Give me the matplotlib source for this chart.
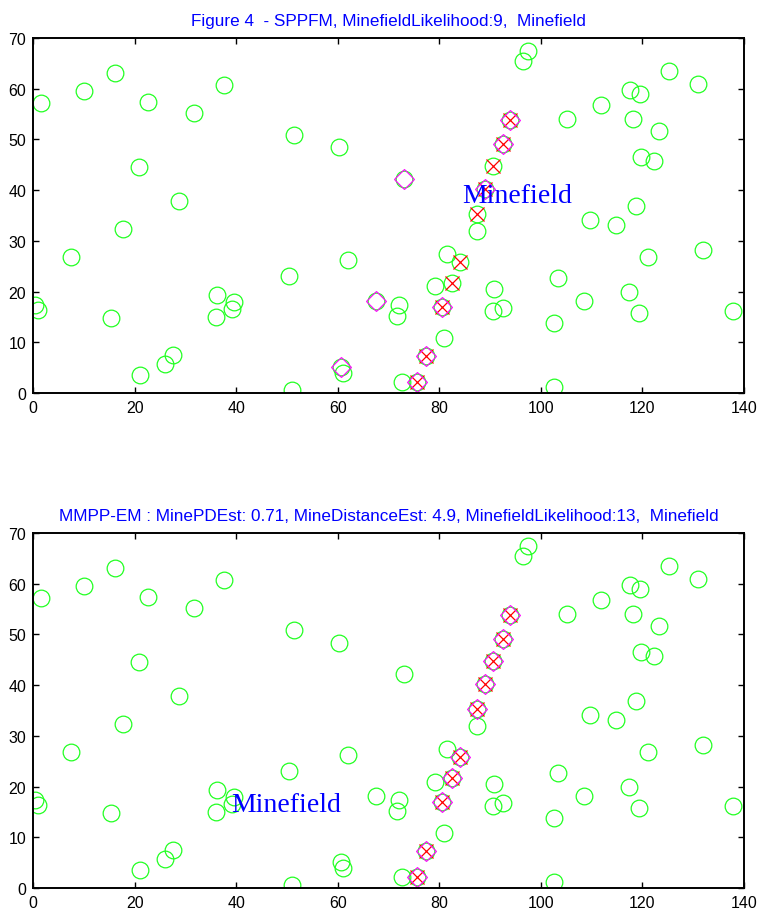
import matplotlib
matplotlib.use("Agg")
import matplotlib.pyplot as plt

# all detected objects (x, y)
det_x = [1.5, 10.0, 16.1, 22.6, 31.6, 37.7, 20.8, 28.7, 17.7, 7.4,
         0.3, 1.0, 15.4, 36.2, 39.5, 39.2, 36.1, 27.5, 25.9, 21.1,
         51.3, 60.2, 73.0, 62.1, 50.5, 67.5, 72.0, 71.7, 60.6, 61.1,
         51.0, 72.6, 75.6, 77.4, 81.0, 80.5, 79.2, 82.5, 81.5, 84.1,
         90.7, 90.5, 92.6, 87.4, 87.4, 89.0, 90.5, 92.6, 94.0,
         97.4, 96.4, 105.1, 111.8, 117.6, 119.5, 118.1, 125.3, 131.0, 123.3,
         119.7, 122.3, 118.7, 109.7, 114.8, 121.0, 132.0, 103.3, 108.5, 117.3,
         119.4, 137.9, 102.5, 102.5]
det_y = [57.1, 59.5, 63.1, 57.4, 55.2, 60.8, 44.6, 37.9, 32.3, 26.8,
         17.4, 16.4, 14.8, 19.4, 17.9, 16.6, 15.0, 7.4, 5.7, 3.5,
         50.8, 48.4, 42.2, 26.3, 23.0, 18.1, 17.4, 15.2, 5.1, 3.9,
         0.6, 2.2, 2.2, 7.2, 10.9, 16.9, 21.0, 21.7, 27.4, 25.8,
         20.6, 16.1, 16.8, 32.0, 35.2, 40.2, 44.8, 49.0, 53.8,
         67.5, 65.4, 54.1, 56.7, 59.8, 59.0, 54.1, 63.4, 61.0, 51.7,
         46.6, 45.7, 36.9, 34.1, 33.1, 26.9, 28.1, 22.7, 18.1, 19.9,
         15.8, 16.1, 13.8, 1.2]

# true mine locations
mine_x = [75.6, 77.4, 80.5, 82.5, 84.1, 87.4, 89.0, 90.5, 92.6, 94.0]
mine_y = [2.2, 7.2, 16.9, 21.7, 25.8, 35.2, 40.2, 44.8, 49.0, 53.8]

# points labelled as mines by each method
sppfm_x = [60.6, 67.5, 73.0, 75.6, 77.4, 80.5, 89.0, 92.6, 94.0]
sppfm_y = [5.1, 18.1, 42.2, 2.2, 7.2, 16.9, 40.2, 49.0, 53.8]
mmpp_x = [75.6, 77.4, 80.5, 82.5, 84.1, 87.4, 89.0, 90.5, 92.6, 94.0]
mmpp_y = [2.2, 7.2, 16.9, 21.7, 25.8, 35.2, 40.2, 44.8, 49.0, 53.8]

titles = [
    "Figure 4  - SPPFM, MinefieldLikelihood:9,  Minefield",
    "MMPP-EM : MinePDEst: 0.71, MineDistanceEst: 4.9, MinefieldLikelihood:13,  Minefield",
]
label_pos = [(84.5, 39.0), (39.0, 16.5)]

plt.rcParams["font.family"] = ["Liberation Sans", "DejaVu Sans"]

fig = plt.figure(figsize=(7.61, 9.12), dpi=100)
ax_top = fig.add_axes([0.0434, 0.568, 0.9343, 0.3893])
ax_bot = fig.add_axes([0.0434, 0.0252, 0.9343, 0.3893])

for ax, title, (est_x, est_y), (tx, ty) in zip(
        [ax_top, ax_bot], titles,
        [(sppfm_x, sppfm_y), (mmpp_x, mmpp_y)], label_pos):
    ax.plot(det_x, det_y, "o", ms=12, mfc="none", mec="#22ff22", mew=0.9)
    ax.plot(mine_x, mine_y, "x", ms=10, mec="red", mew=0.9)
    ax.plot(est_x, est_y, "D", ms=10, mfc="none", mec="#ff00ff", mew=0.8)
    ax.text(tx, ty, "Minefield", color="blue", fontsize=20,
            family="Liberation Serif", va="center", ha="left")
    ax.set_title(title, color="blue", fontsize=12.3, pad=9)
    ax.set_xlim(0, 140)
    ax.set_ylim(0, 70)
    ax.set_xticks(range(0, 141, 20))
    ax.set_yticks(range(0, 71, 10))
    ax.tick_params(direction="in", top=True, right=True, length=4,
                   width=1.0, labelsize=11.5, pad=5)
    for s in ax.spines.values():
        s.set_linewidth(1.4)

fig.savefig("out.png", dpi=100)
